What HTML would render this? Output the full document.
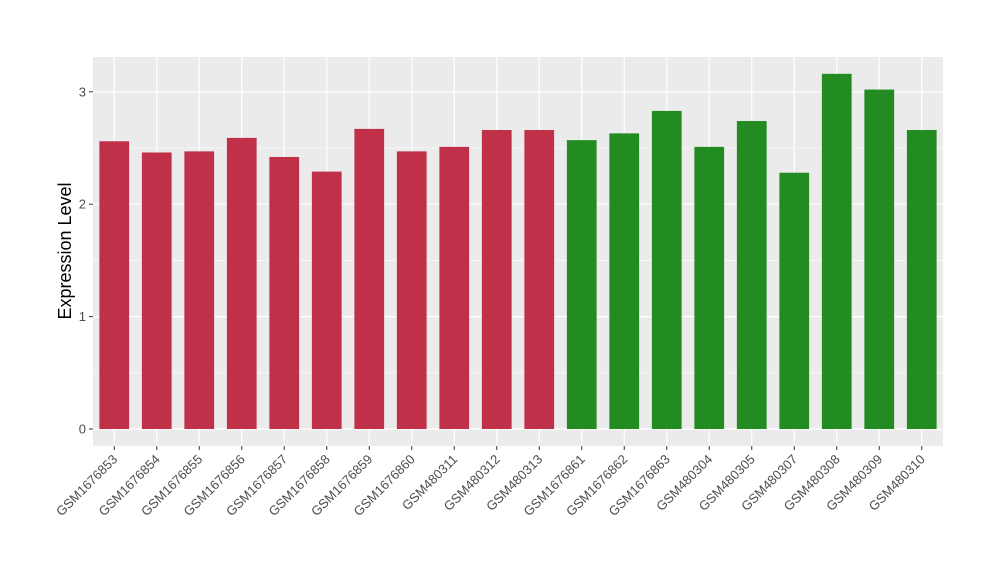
<!DOCTYPE html>
<html><head><meta charset="utf-8"><style>body{margin:0;background:#fff}svg{display:block}</style></head>
<body>
<svg id="chart" width="1000" height="580" xmlns="http://www.w3.org/2000/svg" font-family="Liberation Sans, sans-serif"></svg>
<script>
const categories=["GSM1676853","GSM1676854","GSM1676855","GSM1676856","GSM1676857","GSM1676858","GSM1676859","GSM1676860","GSM480311","GSM480312","GSM480313","GSM1676861","GSM1676862","GSM1676863","GSM480304","GSM480305","GSM480307","GSM480308","GSM480309","GSM480310"];
const values=[2.56,2.46,2.47,2.59,2.42,2.29,2.67,2.47,2.51,2.66,2.66,2.57,2.63,2.83,2.51,2.74,2.28,3.16,3.02,2.66];
const groups=[0,0,0,0,0,0,0,0,0,0,0,1,1,1,1,1,1,1,1,1];
const yTicks=[0,1,2,3];
const colors=["#C03048","#228B22"];
const NS="http://www.w3.org/2000/svg";
const svg=document.getElementById('chart');
const L=93,R=943,T=57,B=446;
const y=v=>429-v*112.4;
const step=(R-L)/categories.length;
const x=i=>L+step*(i+0.5);
function el(t,a,p){const e=document.createElementNS(NS,t);for(const k in a)e.setAttribute(k,a[k]);(p||svg).appendChild(e);return e;}
const bg=el('rect',{x:L,y:T,width:R-L,height:B-T,fill:'#EBEBEB'});


for(let i=0;i<yTicks.length-1;i++){const g=el('line',{x1:L,x2:R,y1:y(yTicks[i]+0.5),y2:y(yTicks[i]+0.5),stroke:'#fff','stroke-width':0.6});

}
yTicks.forEach(t=>{const g=el('line',{x1:L,x2:R,y1:y(t),y2:y(t),stroke:'#fff','stroke-width':1.2});


const tk=el('line',{x1:L-4,x2:L,y1:y(t),y2:y(t),stroke:'#333','stroke-width':1});


const tx=el('text',{x:L-7,y:y(t)+4.5,'text-anchor':'end','font-size':13,fill:'#4D4D4D'});tx.textContent=t;

});
categories.forEach((c,i)=>{const g=el('line',{x1:x(i),x2:x(i),y1:T,y2:B,stroke:'#fff','stroke-width':1.2});

});
categories.forEach((c,i)=>{const bw=step*0.7;
const b=el('rect',{x:x(i)-bw/2,y:y(values[i]),width:bw,height:y(0)-y(values[i]),fill:colors[groups[i]]});


const tk=el('line',{x1:x(i),x2:x(i),y1:B,y2:B+4,stroke:'#333','stroke-width':1});


const tx=el('text',{x:x(i)+4,y:B+14,'text-anchor':'end','font-size':13,fill:'#4D4D4D',transform:`rotate(-45 ${x(i)+4} ${B+14})`});tx.textContent=c;

});
const yt=el('text',{x:71,y:251,'text-anchor':'middle','font-size':18,fill:'#000',transform:'rotate(-90 71 251)'});yt.textContent='Expression Level';


</script>
</body></html>
